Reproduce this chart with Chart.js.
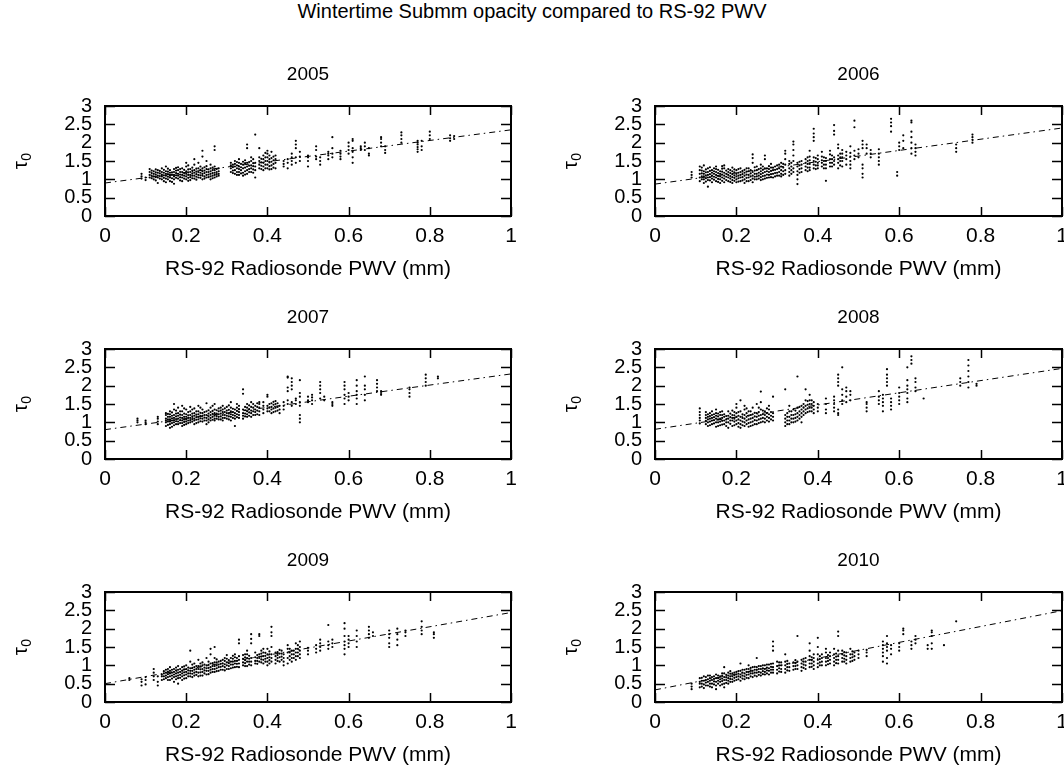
<!DOCTYPE html>
<html>
<head>
<meta charset="utf-8">
<script src="https://cdn.jsdelivr.net/npm/chart.js@4.4.1/dist/chart.umd.min.js"></script>
<style>
    body { margin: 0; background: #fff; }
    #page { position: relative; width: 1064px; height: 766px; overflow: hidden; font-family: "Liberation Sans", Arial, sans-serif; }
    #title { position: absolute; left: 0; top: -1px; width: 1064px; text-align: center; font-size: 20px; line-height: 24px; color: #000; }
    canvas { position: absolute; }
</style>
</head>
<body>
<div id="page">
    <div id="title">Wintertime Submm opacity compared to RS-92 PWV</div>
</div>
<script>
// each entry: [radiosonde PWV (mm), [tau readings taken for that launch]]
const obs2005 = [
    [0.09, [1.02, 1.08, 1.15]], [0.10, [0.98, 1.05]], [0.11, [1.05, 1.12, 1.2, 1.28]],
    [0.12, [1.0, 1.08, 1.15, 1.22]], [0.13, [0.9, 1.05, 1.1, 1.18, 1.25]], [0.14, [1.0, 1.08, 1.13, 1.2, 1.3]],
    [0.15, [0.92, 1.02, 1.1, 1.15, 1.22, 1.35]], [0.16, [0.95, 1.05, 1.1, 1.18, 1.25]], [0.17, [0.88, 1.0, 1.08, 1.12, 1.2, 1.28]],
    [0.18, [1.02, 1.1, 1.15, 1.25, 1.33]], [0.19, [0.95, 1.05, 1.12, 1.2, 1.3]], [0.20, [1.0, 1.08, 1.15, 1.22, 1.35, 1.45]],
    [0.21, [0.98, 1.06, 1.12, 1.2, 1.28]], [0.22, [1.02, 1.1, 1.18, 1.25, 1.4, 1.55]], [0.23, [1.05, 1.12, 1.2, 1.3, 1.45]],
    [0.24, [1.0, 1.1, 1.15, 1.22, 1.3, 1.62, 1.78]], [0.25, [1.05, 1.12, 1.2, 1.28, 1.36, 1.5]], [0.26, [1.0, 1.08, 1.15, 1.22, 1.3, 1.4]],
    [0.27, [1.05, 1.12, 1.18, 1.25, 1.35, 1.8, 1.9]], [0.28, [1.1, 1.15, 1.22, 1.3]], [0.31, [1.2, 1.3, 1.38, 1.45]],
    [0.32, [1.15, 1.25, 1.35, 1.42, 1.5]], [0.33, [1.12, 1.2, 1.28, 1.35, 1.45, 1.55]], [0.34, [1.1, 1.18, 1.3, 1.4, 1.48]],
    [0.35, [1.15, 1.25, 1.35, 1.45, 1.85, 1.95]], [0.36, [1.2, 1.3, 1.38, 1.5, 1.6]], [0.37, [1.05, 1.25, 1.35, 1.45, 2.22]],
    [0.38, [1.3, 1.4, 1.5, 1.6, 1.85]], [0.39, [1.25, 1.35, 1.45, 1.55, 1.65]], [0.40, [1.3, 1.4, 1.5, 1.6, 1.7, 1.78]],
    [0.41, [1.28, 1.38, 1.48, 1.58, 1.75]], [0.42, [1.3, 1.45, 1.55, 1.65]], [0.44, [1.35, 1.42, 1.5]],
    [0.45, [1.3, 1.45, 1.55]], [0.46, [1.4, 1.5, 1.6, 1.7]], [0.47, [1.45, 1.6, 1.85, 1.95, 2.05]],
    [0.48, [1.5, 1.62, 1.75]], [0.50, [1.35, 1.5, 1.6, 1.65]], [0.52, [1.55, 1.62, 1.8, 1.9]],
    [0.53, [1.4, 1.5, 1.6]], [0.55, [1.55, 1.65, 1.7, 1.75]], [0.56, [1.6, 1.7, 1.85, 2.15]],
    [0.58, [1.55, 1.62, 1.7, 1.78]], [0.60, [1.7, 1.8, 1.9, 2.0]], [0.61, [1.45, 1.6, 1.75, 1.85, 2.05, 2.1]],
    [0.63, [1.8, 1.85, 1.9]], [0.64, [1.8, 1.9, 2.0]], [0.65, [1.65, 1.7, 1.85]],
    [0.68, [1.9, 2.0, 2.1, 2.15]], [0.69, [1.72, 1.8, 1.9]], [0.73, [2.0, 2.1, 2.2, 2.28]],
    [0.77, [1.75, 1.82, 1.88, 1.95, 2.0, 2.05]], [0.78, [1.8, 1.9, 2.05]], [0.80, [2.1, 2.2, 2.3]],
    [0.85, [2.05, 2.12, 2.2]], [0.86, [2.1, 2.18]],
    [0.115, [1.03, 1.1, 1.17, 1.24]], [0.125, [0.97, 1.06, 1.13, 1.19, 1.27]], [0.135, [1.02, 1.09, 1.16, 1.23]],
    [0.145, [0.95, 1.04, 1.11, 1.18, 1.26]], [0.155, [1.0, 1.07, 1.14, 1.21, 1.29]], [0.165, [0.93, 1.03, 1.12, 1.19]],
    [0.175, [1.04, 1.11, 1.17, 1.24, 1.31]], [0.185, [0.97, 1.06, 1.13, 1.2, 1.28]], [0.195, [1.02, 1.1, 1.17, 1.26]],
    [0.205, [0.96, 1.04, 1.12, 1.19, 1.27, 1.38]], [0.215, [1.03, 1.1, 1.16, 1.24, 1.32]], [0.225, [0.99, 1.07, 1.14, 1.21, 1.29]],
    [0.235, [1.04, 1.11, 1.18, 1.26, 1.35]], [0.245, [1.02, 1.08, 1.17, 1.24, 1.33]], [0.255, [1.06, 1.13, 1.2, 1.27]],
    [0.265, [1.03, 1.1, 1.17, 1.25, 1.32]], [0.275, [1.08, 1.14, 1.2, 1.28]], [0.315, [1.17, 1.24, 1.33, 1.4]],
    [0.325, [1.12, 1.2, 1.3, 1.38, 1.47]], [0.335, [1.16, 1.25, 1.33, 1.42]], [0.345, [1.13, 1.22, 1.32, 1.44, 1.52]],
    [0.355, [1.2, 1.28, 1.37, 1.47]], [0.365, [1.18, 1.27, 1.36, 1.44, 1.55]], [0.385, [1.28, 1.37, 1.46, 1.56]],
    [0.395, [1.3, 1.4, 1.5, 1.6, 1.72]], [0.405, [1.27, 1.36, 1.46, 1.55, 1.65]], [0.415, [1.32, 1.42, 1.52, 1.62]],
]

const obs2006 = [
    [0.09, [1.05, 1.12, 1.2]], [0.11, [0.95, 1.05, 1.15, 1.25, 1.35]], [0.12, [0.9, 1.0, 1.08, 1.15, 1.22, 1.38]],
    [0.13, [0.8, 0.98, 1.05, 1.12, 1.2, 1.3]], [0.14, [0.92, 1.02, 1.1, 1.18, 1.25]], [0.15, [0.95, 1.05, 1.12, 1.2, 1.28, 1.35]],
    [0.16, [0.9, 1.0, 1.08, 1.15, 1.22]], [0.17, [0.92, 1.02, 1.1, 1.18, 1.3, 1.38]], [0.18, [0.95, 1.05, 1.12, 1.2, 1.28]],
    [0.19, [0.9, 0.98, 1.06, 1.14, 1.22, 1.32]], [0.20, [0.92, 1.0, 1.08, 1.15, 1.25]], [0.21, [0.95, 1.05, 1.12, 1.2, 1.3]],
    [0.22, [0.9, 1.0, 1.1, 1.18, 1.26]], [0.23, [0.95, 1.05, 1.12, 1.22, 1.3]], [0.24, [0.92, 1.02, 1.1, 1.2, 1.45, 1.58, 1.68]],
    [0.25, [1.0, 1.08, 1.15, 1.25, 1.35]], [0.26, [0.98, 1.06, 1.14, 1.22, 1.3, 1.4]], [0.27, [1.02, 1.1, 1.2, 1.3, 1.55, 1.65]],
    [0.28, [1.05, 1.12, 1.2, 1.28, 1.36]], [0.29, [1.05, 1.15, 1.25, 1.32]], [0.30, [1.1, 1.18, 1.28, 1.38]],
    [0.31, [1.08, 1.15, 1.25, 1.35, 1.45]], [0.32, [1.15, 1.25, 1.4, 1.55, 1.7, 1.78]], [0.33, [1.1, 1.2, 1.3, 1.42, 1.5]],
    [0.34, [1.2, 1.3, 1.5, 1.65, 1.8, 1.95, 2.03]], [0.35, [0.87, 1.0, 1.12, 1.22, 1.35, 1.45]], [0.36, [1.2, 1.3, 1.4, 1.5]],
    [0.37, [1.25, 1.35, 1.45, 1.55]], [0.38, [1.25, 1.32, 1.42, 1.52, 1.62, 1.78]], [0.39, [1.3, 1.4, 1.5, 1.6, 2.05, 2.15, 2.25, 2.38]],
    [0.40, [1.3, 1.38, 1.45, 1.55, 1.65]], [0.41, [1.35, 1.45, 1.52, 1.62, 1.75]], [0.42, [0.96, 1.3, 1.4, 1.5, 1.58]],
    [0.43, [1.35, 1.45, 1.55, 1.68, 1.78]], [0.44, [1.4, 1.5, 1.6, 2.22, 2.32, 2.48]], [0.45, [1.3, 1.45, 1.55, 1.65, 1.85, 1.95]],
    [0.46, [1.35, 1.5, 1.6, 1.7, 1.8]], [0.47, [1.4, 1.55, 1.65, 1.75]], [0.48, [1.3, 1.4, 1.5, 1.62, 1.72, 1.9]],
    [0.49, [1.55, 1.65, 1.78, 2.42, 2.6]], [0.50, [1.6, 1.7, 1.82]], [0.51, [1.05, 1.15, 1.3, 1.4, 1.85, 1.95, 2.05]],
    [0.52, [1.7, 1.85, 1.95]], [0.53, [1.6, 1.7, 1.8]], [0.55, [1.4, 1.5, 1.6, 1.7, 1.82]],
    [0.58, [2.3, 2.45, 2.55, 2.65]], [0.595, [1.1, 1.2]], [0.60, [1.8, 1.9, 2.0]],
    [0.61, [1.85, 2.05, 2.2]], [0.63, [1.7, 1.85, 2.0, 2.15, 2.3, 2.55, 2.6]], [0.64, [1.65, 1.75, 1.85, 1.95]],
    [0.74, [1.75, 1.85, 1.95]], [0.78, [2.0, 2.08, 2.15, 2.22]],
    [0.115, [1.0, 1.08, 1.16, 1.24, 1.32]], [0.125, [0.94, 1.03, 1.11, 1.19, 1.27]], [0.135, [0.97, 1.06, 1.14, 1.23, 1.33]],
    [0.145, [0.99, 1.07, 1.15, 1.22, 1.3]], [0.155, [0.93, 1.01, 1.09, 1.17, 1.26]], [0.165, [0.96, 1.05, 1.13, 1.21, 1.29, 1.36]],
    [0.175, [0.98, 1.07, 1.15, 1.24]], [0.185, [0.93, 1.02, 1.09, 1.17, 1.25]], [0.195, [0.96, 1.04, 1.11, 1.19, 1.27]],
    [0.205, [0.94, 1.03, 1.1, 1.18, 1.28]], [0.215, [0.97, 1.06, 1.14, 1.23]], [0.225, [0.95, 1.04, 1.13, 1.21, 1.3]],
    [0.235, [0.98, 1.08, 1.16, 1.25]], [0.245, [1.0, 1.07, 1.15, 1.24, 1.33]], [0.255, [1.02, 1.1, 1.18, 1.28]],
    [0.265, [1.0, 1.09, 1.17, 1.26, 1.35]], [0.275, [1.04, 1.13, 1.22, 1.3]], [0.285, [1.06, 1.14, 1.23, 1.32, 1.42]],
    [0.295, [1.08, 1.17, 1.26, 1.35]], [0.305, [1.1, 1.2, 1.3, 1.4]], [0.315, [1.12, 1.22, 1.32, 1.42]],
    [0.335, [1.15, 1.25, 1.35, 1.45]], [0.355, [1.18, 1.28, 1.38, 1.48]], [0.375, [1.22, 1.32, 1.42, 1.5, 1.6]],
    [0.395, [1.28, 1.38, 1.48, 1.58]], [0.415, [1.3, 1.4, 1.5, 1.6]], [0.435, [1.35, 1.45, 1.55, 1.65]],
    [0.455, [1.38, 1.5, 1.6, 1.7]],
]

const obs2007 = [
    [0.08, [1.0, 1.05, 1.1]], [0.10, [0.95, 1.0, 1.05]], [0.13, [0.95, 1.02, 1.1, 1.15]],
    [0.15, [0.9, 1.0, 1.05, 1.1, 1.2, 1.25]], [0.16, [0.85, 0.95, 1.02, 1.08, 1.15, 1.22, 1.3]], [0.17, [0.92, 1.0, 1.06, 1.12, 1.2, 1.35, 1.5]],
    [0.18, [0.95, 1.02, 1.1, 1.18, 1.25, 1.4]], [0.19, [0.9, 0.98, 1.05, 1.12, 1.2, 1.3, 1.45]], [0.20, [0.95, 1.02, 1.08, 1.15, 1.22, 1.35]],
    [0.21, [1.0, 1.06, 1.12, 1.2, 1.3, 1.42]], [0.22, [0.95, 1.05, 1.1, 1.18, 1.25, 1.38]], [0.23, [1.0, 1.08, 1.15, 1.22, 1.3, 1.45]],
    [0.24, [1.02, 1.1, 1.18, 1.25, 1.35]], [0.25, [0.95, 1.05, 1.12, 1.2, 1.3, 1.52]], [0.26, [1.05, 1.12, 1.2, 1.28, 1.4]],
    [0.27, [1.05, 1.1, 1.18, 1.25, 1.35, 1.5]], [0.28, [1.08, 1.15, 1.22, 1.3, 1.38]], [0.29, [1.05, 1.12, 1.2, 1.28, 1.35, 1.45]],
    [0.30, [1.1, 1.18, 1.25, 1.32, 1.42]], [0.31, [1.05, 1.15, 1.22, 1.3, 1.4, 1.55]], [0.32, [0.9, 1.1, 1.18, 1.25, 1.35]],
    [0.33, [1.12, 1.2, 1.28, 1.36, 1.45]], [0.34, [1.1, 1.18, 1.25, 1.35, 1.78, 1.9]], [0.35, [1.15, 1.22, 1.3, 1.4, 1.5]],
    [0.36, [1.15, 1.25, 1.32, 1.42, 1.55]], [0.37, [1.2, 1.28, 1.35, 1.45]], [0.38, [1.2, 1.3, 1.4, 1.5, 1.55]],
    [0.40, [1.3, 1.38, 1.45, 1.7, 1.75]], [0.41, [1.25, 1.35, 1.42, 1.52]], [0.42, [1.3, 1.4, 1.5, 1.58]],
    [0.43, [1.25, 1.35, 1.45]], [0.44, [1.35, 1.45, 1.55]], [0.45, [1.5, 1.6, 1.85, 1.95, 2.22, 2.25]],
    [0.46, [1.45, 1.55, 1.9, 2.0, 2.1, 2.2]], [0.47, [1.5, 1.6, 1.65]], [0.48, [1.0, 1.1, 1.2, 1.45, 1.55, 1.7, 1.8, 2.15]],
    [0.50, [1.55, 1.6, 1.7]], [0.51, [1.5, 1.6, 1.68, 1.75]], [0.53, [1.65, 1.8, 1.9, 2.0, 2.1]],
    [0.54, [1.6, 1.7]], [0.56, [1.45, 1.5, 1.55]], [0.59, [1.5, 1.65, 1.75, 1.9, 2.0, 2.1]],
    [0.60, [1.6, 1.7, 1.8]], [0.62, [1.5, 1.65, 1.75, 1.85, 2.0, 2.15]], [0.64, [1.6, 1.75, 1.9, 2.0, 2.25]],
    [0.67, [1.85, 1.95, 2.05, 2.15]], [0.68, [1.75, 1.8, 1.85]], [0.75, [1.7, 1.8, 1.9, 1.95]],
    [0.79, [2.0, 2.1, 2.2, 2.3]], [0.82, [2.2, 2.25]],
    [0.155, [0.93, 1.02, 1.08, 1.15, 1.23]], [0.165, [0.88, 0.98, 1.05, 1.11, 1.18, 1.27]], [0.175, [0.95, 1.03, 1.09, 1.16, 1.24, 1.32]],
    [0.185, [0.98, 1.06, 1.13, 1.21, 1.3]], [0.195, [0.93, 1.01, 1.08, 1.15, 1.24, 1.38]], [0.205, [0.98, 1.05, 1.12, 1.19, 1.28]],
    [0.215, [1.02, 1.09, 1.16, 1.24, 1.35]], [0.225, [0.98, 1.07, 1.14, 1.21, 1.3]], [0.235, [1.03, 1.11, 1.18, 1.26, 1.4]],
    [0.245, [1.05, 1.13, 1.2, 1.28]], [0.255, [1.0, 1.08, 1.16, 1.24, 1.33]], [0.265, [1.07, 1.15, 1.23, 1.31, 1.45]],
    [0.275, [1.1, 1.17, 1.24, 1.33]], [0.285, [1.08, 1.16, 1.24, 1.32, 1.4]], [0.295, [1.12, 1.2, 1.28, 1.38]],
    [0.305, [1.08, 1.16, 1.24, 1.34, 1.46]], [0.315, [1.12, 1.2, 1.28, 1.37]], [0.325, [1.14, 1.22, 1.31, 1.4, 1.5]],
    [0.345, [1.16, 1.24, 1.33, 1.42]], [0.355, [1.18, 1.27, 1.36, 1.46]], [0.365, [1.2, 1.3, 1.4, 1.5]],
    [0.375, [1.22, 1.32, 1.42, 1.52]], [0.39, [1.25, 1.35, 1.45, 1.55]], [0.405, [1.3, 1.4, 1.5]],
    [0.415, [1.28, 1.38, 1.48, 1.56]], [0.425, [1.32, 1.42, 1.52]],
]

const obs2008 = [
    [0.11, [0.97, 1.05, 1.12, 1.2, 1.28, 1.38]], [0.13, [0.9, 1.0, 1.08, 1.15, 1.22]], [0.14, [0.95, 1.05, 1.12, 1.2, 1.3]],
    [0.15, [0.88, 1.0, 1.1, 1.18, 1.25, 1.35]], [0.16, [0.92, 1.02, 1.1, 1.2, 1.28]], [0.17, [0.95, 1.05, 1.15, 1.22]],
    [0.18, [0.85, 1.0, 1.1, 1.18, 1.3]], [0.19, [0.9, 1.05, 1.12, 1.2, 1.32]], [0.20, [0.95, 1.05, 1.15, 1.25, 1.4, 1.5]],
    [0.21, [0.85, 0.95, 1.05, 1.15, 1.3, 1.6]], [0.22, [0.9, 1.0, 1.1, 1.2, 1.35, 1.45]], [0.23, [0.88, 0.98, 1.08, 1.18, 1.3]],
    [0.24, [0.92, 1.02, 1.12, 1.22, 1.4]], [0.25, [0.95, 1.05, 1.15, 1.25, 1.5]], [0.26, [1.0, 1.1, 1.2, 1.35, 1.55, 1.84]],
    [0.27, [1.0, 1.1, 1.2, 1.3]], [0.28, [1.02, 1.12, 1.22, 1.35, 1.45]], [0.29, [1.05, 1.15, 1.25, 1.7]],
    [0.32, [0.9, 1.0, 1.1, 1.2, 1.9]], [0.33, [0.95, 1.05, 1.15, 1.3, 1.45]], [0.34, [1.0, 1.1, 1.2, 1.35]],
    [0.35, [1.05, 1.15, 1.25, 1.4, 2.25]], [0.36, [1.0, 1.15, 1.25, 1.35, 1.45]], [0.37, [1.25, 1.35, 1.45, 1.6, 1.9]],
    [0.38, [1.3, 1.4, 1.5, 1.6, 1.75]], [0.39, [1.25, 1.35, 1.45, 1.55]], [0.40, [1.3, 1.4, 1.5]],
    [0.42, [1.25, 1.35, 1.5, 1.65]], [0.44, [1.3, 1.4, 1.5, 1.6, 1.7]], [0.45, [1.2, 1.25, 1.35, 2.0, 2.1, 2.2, 2.3]],
    [0.46, [1.5, 1.6, 1.75, 1.9, 2.5]], [0.47, [1.55, 1.7, 1.85, 1.95]], [0.48, [1.6, 1.75, 1.85]],
    [0.52, [1.3, 1.4, 1.5, 1.55]], [0.55, [1.5, 1.6, 1.7, 1.85]], [0.56, [1.3, 1.45, 1.55, 1.65, 1.75]],
    [0.57, [2.0, 2.1, 2.2, 2.3, 2.45]], [0.58, [1.35, 1.45, 1.55, 1.65]], [0.60, [1.5, 1.6, 1.7, 1.8, 1.95]],
    [0.62, [1.55, 1.65, 1.8, 1.9, 2.0, 2.15, 2.5]], [0.63, [2.6, 2.7, 2.8]], [0.64, [1.85, 1.95, 2.1, 2.2]],
    [0.66, [1.65]], [0.75, [2.0, 2.1, 2.2]], [0.77, [1.95, 2.1, 2.25, 2.4, 2.55, 2.7]],
    [0.79, [2.0, 2.05]],
    [0.125, [0.95, 1.04, 1.12, 1.2, 1.28]], [0.135, [0.92, 1.02, 1.1, 1.17, 1.25]], [0.145, [0.97, 1.06, 1.14, 1.22]],
    [0.155, [0.9, 1.0, 1.08, 1.16, 1.24]], [0.165, [0.94, 1.04, 1.12, 1.2, 1.3]], [0.175, [0.9, 1.0, 1.08, 1.17]],
    [0.185, [0.96, 1.05, 1.14, 1.24]], [0.195, [0.92, 1.02, 1.1, 1.19, 1.28]], [0.205, [0.88, 0.98, 1.08, 1.18, 1.28]],
    [0.215, [0.92, 1.02, 1.12, 1.22]], [0.225, [0.95, 1.05, 1.15, 1.25, 1.38]], [0.235, [0.9, 1.0, 1.1, 1.2, 1.3]],
    [0.245, [0.95, 1.06, 1.16, 1.26]], [0.255, [0.98, 1.08, 1.18, 1.28, 1.4]], [0.265, [1.02, 1.12, 1.22, 1.32]],
    [0.275, [1.05, 1.15, 1.25, 1.38]], [0.285, [1.08, 1.18, 1.28]], [0.325, [0.95, 1.05, 1.15, 1.25]],
    [0.335, [1.0, 1.1, 1.2, 1.3]], [0.345, [1.02, 1.12, 1.22, 1.32]], [0.355, [1.1, 1.2, 1.3, 1.42]],
    [0.365, [1.2, 1.3, 1.4, 1.5]], [0.375, [1.28, 1.38, 1.48, 1.58]], [0.385, [1.3, 1.4, 1.5, 1.6]],
]

const obs2009 = [
    [0.06, [0.6, 0.65]], [0.09, [0.45, 0.55, 0.62]], [0.10, [0.48, 0.6, 0.68]],
    [0.12, [0.6, 0.7, 0.8, 0.9]], [0.13, [0.45, 0.55, 0.7]], [0.14, [0.6, 0.7, 0.75]],
    [0.15, [0.65, 0.72, 0.8, 0.88]], [0.16, [0.6, 0.7, 0.78, 0.85, 0.95]], [0.17, [0.55, 0.68, 0.75, 0.82, 0.9]],
    [0.18, [0.5, 0.65, 0.72, 0.8, 0.88, 0.98]], [0.19, [0.6, 0.7, 0.78, 0.85, 0.95]], [0.20, [0.65, 0.75, 0.82, 0.9, 1.0]],
    [0.21, [0.7, 0.78, 0.85, 0.92, 1.1, 1.4]], [0.22, [0.72, 0.8, 0.88, 0.95, 1.05]], [0.23, [0.7, 0.8, 0.9, 0.98, 1.15]],
    [0.24, [0.72, 0.82, 0.9, 1.0, 1.08]], [0.25, [0.75, 0.85, 0.92, 1.0, 1.2]], [0.26, [0.8, 0.88, 0.95, 1.05, 1.3, 1.45]],
    [0.27, [0.82, 0.9, 0.98, 1.08, 1.2, 1.5]], [0.28, [0.85, 0.95, 1.02, 1.1]], [0.29, [0.88, 0.98, 1.05, 1.15]],
    [0.30, [0.9, 1.0, 1.08, 1.18, 1.28]], [0.31, [0.92, 1.02, 1.1, 1.2]], [0.32, [0.95, 1.05, 1.12, 1.22, 1.3]],
    [0.33, [0.95, 1.05, 1.15, 1.25, 1.6, 1.7]], [0.34, [1.0, 1.08, 1.18, 1.28]], [0.35, [0.98, 1.1, 1.2, 1.3, 1.4]],
    [0.36, [1.0, 1.1, 1.2, 1.6, 1.72, 1.85]], [0.37, [1.05, 1.12, 1.22, 1.35]], [0.38, [1.1, 1.2, 1.3, 1.8, 1.85]],
    [0.39, [1.05, 1.15, 1.25, 1.35, 1.45]], [0.40, [1.0, 1.1, 1.2, 1.3, 1.45]], [0.41, [1.1, 1.2, 1.3, 1.5, 1.8, 1.9, 2.05]],
    [0.42, [1.05, 1.15, 1.25, 1.35]], [0.43, [1.1, 1.22, 1.32, 1.42]], [0.44, [1.0, 1.1, 1.2, 1.3]],
    [0.45, [1.05, 1.2, 1.35, 1.45, 1.55]], [0.46, [1.1, 1.2, 1.3, 1.4]], [0.47, [1.15, 1.25, 1.35, 1.45, 1.6]],
    [0.48, [1.2, 1.3, 1.4, 1.5, 1.65]], [0.50, [1.3, 1.4, 1.48]], [0.52, [1.35, 1.45, 1.55]],
    [0.53, [1.4, 1.5, 1.6, 1.7]], [0.55, [1.45, 1.55, 1.65, 2.1]], [0.56, [1.5, 1.6, 1.7]],
    [0.59, [1.3, 1.45, 1.55, 1.65, 1.8, 2.0, 2.15]], [0.60, [1.5, 1.6, 1.7, 1.8]], [0.62, [1.5, 1.65, 1.8, 1.95]],
    [0.65, [1.75, 1.85, 1.95, 2.05]], [0.66, [1.8, 1.9]], [0.70, [1.5, 1.6, 1.75, 1.85, 1.95]],
    [0.72, [1.55, 1.7, 1.85, 2.0]], [0.74, [1.8, 1.9, 1.95]], [0.78, [1.85, 1.95, 2.05, 2.2]],
    [0.81, [1.75, 1.85, 1.9]],
    [0.145, [0.62, 0.7, 0.78, 0.84]], [0.155, [0.6, 0.68, 0.76, 0.83, 0.9]], [0.165, [0.64, 0.72, 0.8, 0.88]],
    [0.175, [0.62, 0.7, 0.78, 0.86, 0.94]], [0.185, [0.66, 0.74, 0.82, 0.9]], [0.195, [0.64, 0.73, 0.81, 0.89, 0.97]],
    [0.205, [0.7, 0.78, 0.86, 0.94]], [0.215, [0.68, 0.77, 0.85, 0.93, 1.02]], [0.225, [0.74, 0.82, 0.9, 0.98]],
    [0.235, [0.72, 0.81, 0.89, 0.97, 1.05]], [0.245, [0.78, 0.86, 0.94, 1.02]], [0.255, [0.76, 0.85, 0.93, 1.01, 1.1]],
    [0.265, [0.82, 0.9, 0.98, 1.06]], [0.275, [0.84, 0.92, 1.0, 1.08, 1.16]], [0.285, [0.88, 0.96, 1.04, 1.12]],
    [0.295, [0.86, 0.95, 1.03, 1.12, 1.2]], [0.305, [0.9, 0.98, 1.06, 1.14]], [0.315, [0.94, 1.02, 1.1, 1.18, 1.26]],
    [0.325, [0.96, 1.04, 1.12, 1.2]], [0.345, [0.98, 1.06, 1.14, 1.22, 1.3]], [0.355, [1.02, 1.1, 1.18, 1.26]],
    [0.375, [1.04, 1.12, 1.2, 1.28]], [0.385, [1.08, 1.16, 1.24, 1.32, 1.4]], [0.395, [1.1, 1.18, 1.26, 1.34]],
    [0.405, [1.05, 1.14, 1.22, 1.3, 1.38]], [0.425, [1.12, 1.2, 1.28, 1.36]], [0.435, [1.15, 1.24, 1.32, 1.4]],
    [0.455, [1.15, 1.25, 1.35, 1.45]], [0.465, [1.2, 1.3, 1.4]], [0.475, [1.25, 1.35, 1.45, 1.55]],
]

const obs2010 = [
    [0.09, [0.35, 0.42, 0.5]], [0.11, [0.4, 0.5, 0.55, 0.65]], [0.12, [0.38, 0.48, 0.58, 0.7]],
    [0.13, [0.45, 0.55, 0.62, 0.72]], [0.14, [0.4, 0.5, 0.6, 0.68]], [0.15, [0.35, 0.45, 0.55, 0.65, 0.75]],
    [0.16, [0.45, 0.55, 0.62, 0.7]], [0.17, [0.4, 0.5, 0.6, 0.68, 0.78, 0.95]], [0.18, [0.5, 0.58, 0.65, 0.72, 0.8]],
    [0.19, [0.55, 0.62, 0.7, 0.78]], [0.20, [0.6, 0.68, 0.75, 0.82]], [0.21, [0.58, 0.68, 0.75, 0.85, 1.05]],
    [0.22, [0.62, 0.7, 0.78, 0.88]], [0.23, [0.65, 0.75, 0.82, 0.9, 1.0]], [0.24, [0.68, 0.78, 0.85, 0.95]],
    [0.25, [0.7, 0.8, 0.88, 0.95, 1.2]], [0.26, [0.72, 0.8, 0.9, 0.98]], [0.27, [0.75, 0.82, 0.9, 1.0]],
    [0.28, [0.75, 0.85, 0.92, 1.02]], [0.29, [0.8, 0.88, 0.95, 1.05, 1.4, 1.52, 1.65]], [0.30, [0.78, 0.88, 0.98, 1.1]],
    [0.31, [0.82, 0.9, 1.0, 1.08]], [0.32, [0.8, 0.9, 1.0, 1.1, 1.3]], [0.33, [0.85, 0.95, 1.05]],
    [0.34, [0.88, 0.98, 1.08]], [0.35, [0.9, 1.0, 1.1, 1.8]], [0.36, [0.85, 0.95, 1.05, 1.15]],
    [0.37, [0.9, 1.0, 1.1, 1.2]], [0.38, [0.95, 1.05, 1.15, 1.25, 1.4, 1.6]], [0.39, [0.9, 1.0, 1.1, 1.2, 1.3]],
    [0.40, [0.95, 1.05, 1.15, 1.3, 1.5, 1.75]], [0.41, [1.0, 1.1, 1.2, 1.3]], [0.42, [1.0, 1.1, 1.2, 1.35, 1.45]],
    [0.43, [1.05, 1.15, 1.25, 1.35]], [0.44, [1.0, 1.1, 1.2, 1.3, 1.45]], [0.45, [1.05, 1.15, 1.25, 1.4, 1.8, 1.92]],
    [0.46, [1.1, 1.2, 1.3, 1.4]], [0.47, [1.05, 1.15, 1.25, 1.35]], [0.48, [1.1, 1.2, 1.3, 1.45]],
    [0.49, [1.15, 1.25, 1.35]], [0.50, [1.2, 1.3, 1.4]], [0.52, [1.25, 1.35, 1.42]],
    [0.56, [1.1, 1.25, 1.35, 1.45, 1.55, 1.65]], [0.57, [1.05, 1.2, 1.4, 1.5, 1.6, 1.8]], [0.58, [1.3, 1.45, 1.55]],
    [0.60, [1.4, 1.5, 1.6]], [0.61, [1.85, 1.95, 2.0]], [0.63, [1.45, 1.55, 1.65]],
    [0.64, [1.6, 1.7, 1.8]], [0.67, [1.45, 1.55]], [0.68, [1.45, 1.6, 1.8, 1.9, 1.95]],
    [0.71, [1.55]], [0.74, [2.2]],
    [0.115, [0.42, 0.5, 0.58, 0.66]], [0.125, [0.45, 0.53, 0.6, 0.68]], [0.135, [0.42, 0.5, 0.58, 0.65, 0.72]],
    [0.145, [0.48, 0.56, 0.63, 0.7]], [0.155, [0.5, 0.58, 0.65, 0.72]], [0.165, [0.48, 0.57, 0.64, 0.71, 0.78]],
    [0.175, [0.52, 0.6, 0.67, 0.74]], [0.185, [0.55, 0.63, 0.7, 0.77, 0.84]], [0.195, [0.58, 0.66, 0.73, 0.8]],
    [0.205, [0.62, 0.7, 0.77, 0.84]], [0.215, [0.64, 0.72, 0.8, 0.88]], [0.225, [0.66, 0.74, 0.82, 0.9]],
    [0.235, [0.7, 0.78, 0.86, 0.93]], [0.245, [0.72, 0.8, 0.88, 0.96]], [0.255, [0.74, 0.82, 0.9, 0.98]],
    [0.265, [0.76, 0.84, 0.92, 1.0]], [0.275, [0.78, 0.86, 0.94, 1.02]], [0.285, [0.8, 0.88, 0.96, 1.04]],
    [0.305, [0.83, 0.92, 1.0, 1.08]], [0.325, [0.86, 0.95, 1.04, 1.12]], [0.345, [0.9, 0.98, 1.06, 1.14]],
    [0.365, [0.93, 1.02, 1.1, 1.18]], [0.385, [0.96, 1.05, 1.14, 1.22]], [0.405, [1.0, 1.08, 1.17, 1.25]],
    [0.425, [1.03, 1.12, 1.2, 1.28]], [0.445, [1.06, 1.15, 1.24, 1.32]], [0.465, [1.1, 1.18, 1.27, 1.36]],
    [0.485, [1.12, 1.22, 1.3, 1.38]],
]

const years = ['2005', '2006', '2007', '2008', '2009', '2010']
const observations = [obs2005, obs2006, obs2007, obs2008, obs2009, obs2010]

// dash-dot linear fit, value at PWV = 0 and PWV = 1
const fitStart = [0.9, 0.87, 0.8, 0.81, 0.5, 0.33]
const fitEnd = [2.35, 2.4, 2.32, 2.47, 2.44, 2.49]

const pwvTicks = [0, 0.2, 0.4, 0.6, 0.8, 1]
const tauTicks = [0, 0.5, 1, 1.5, 2, 2.5, 3]

Chart.defaults.color = '#000'
Chart.defaults.font.family = '"Liberation Sans", Arial, sans-serif'

// gnuplot style box: border, inward tick marks on all four sides, tau label
const frame = {
    id: 'frame',
    afterDatasetsDraw(chart) {
        let {ctx, chartArea: a, scales: {x, y}} = chart
        ctx.save()
        ctx.strokeStyle = '#000'
        ctx.lineWidth = 1.5
        ctx.beginPath()
        tauTicks.forEach((v) => {
            let py = Math.round(y.getPixelForValue(v)) + 0.5
            ctx.moveTo(a.left, py)
            ctx.lineTo(a.left + 10, py)
            ctx.moveTo(a.right, py)
            ctx.lineTo(a.right - 10, py)
        })
        pwvTicks.forEach((v) => {
            let px = Math.round(x.getPixelForValue(v)) + 0.5
            ctx.moveTo(px, a.bottom)
            ctx.lineTo(px, a.bottom - 9)
            ctx.moveTo(px, a.top)
            ctx.lineTo(px, a.top + 9)
        })
        ctx.stroke()
        ctx.lineWidth = 2
        ctx.strokeRect(a.left, a.top, a.right - a.left, a.bottom - a.top)

        ctx.translate(a.left - 84, (a.top + a.bottom) / 2)
        ctx.rotate(-Math.PI / 2)
        ctx.fillStyle = '#000'
        ctx.textBaseline = 'middle'
        ctx.font = '21px "Liberation Sans", Arial, sans-serif'
        let w = ctx.measureText('τ').width
        ctx.fillText('τ', -w / 2 - 4, 0)
        ctx.font = '14px "Liberation Sans", Arial, sans-serif'
        ctx.fillText('0', w / 2 - 4, 6)
        ctx.restore()
    },
}

const page = document.getElementById('page')

observations.forEach((obs, i) => {
    let col = i % 2
    let row = Math.floor(i / 2)

    let canvas = document.createElement('canvas')
    canvas.width = 532
    canvas.height = 243
    canvas.style.left = (col * 532) + 'px'
    canvas.style.top = (56 + row * 243) + 'px'
    page.appendChild(canvas)

    let points = []
    obs.forEach(([pwv, taus]) => {
        taus.forEach((tau) => points.push({x: pwv, y: tau}))
    })

    new Chart(canvas, {
        type: 'scatter',
        data: {
            datasets: [
                {
                    data: points,
                    pointRadius: 1.1,
                    pointHoverRadius: 1.1,
                    backgroundColor: '#000',
                    borderWidth: 0,
                },
                {
                    data: [{x: 0, y: fitStart[i]}, {x: 1, y: fitEnd[i]}],
                    showLine: true,
                    borderColor: '#000',
                    borderWidth: 1,
                    borderDash: [6, 4, 1.5, 4],
                    pointRadius: 0,
                },
            ],
        },
        options: {
            responsive: false,
            animation: false,
            devicePixelRatio: 1,
            layout: {padding: {left: 0, right: col ? 2 : 21, top: 0, bottom: 0}},
            plugins: {
                legend: {display: false},
                tooltip: {enabled: false},
                title: {
                    display: true,
                    text: years[i],
                    fullSize: false,
                    font: {size: 19, weight: 'normal'},
                    padding: {top: 7.6, bottom: 19.6},
                },
            },
            scales: {
                x: {
                    type: 'linear',
                    min: 0,
                    max: 1,
                    grid: {display: false, drawTicks: false},
                    border: {display: false},
                    afterBuildTicks: (s) => { s.ticks = pwvTicks.map((v) => ({value: v})) },
                    afterFit: (s) => {
                        s.height = 83
                        s.paddingLeft = 0
                        s.paddingRight = 0
                    },
                    ticks: {
                        font: {size: 21},
                        padding: 8,
                        maxRotation: 0,
                        autoSkip: false,
                        callback: (v) => String(v),
                    },
                    title: {
                        display: true,
                        text: 'RS-92 Radiosonde PWV (mm)',
                        font: {size: 21},
                        padding: {top: 0, bottom: 17},
                    },
                },
                y: {
                    type: 'linear',
                    min: 0,
                    max: 3,
                    grid: {display: false, drawTicks: false},
                    border: {display: false},
                    afterBuildTicks: (s) => { s.ticks = tauTicks.map((v) => ({value: v})) },
                    afterFit: (s) => {
                        s.width = col ? 123 : 105
                        s.paddingTop = 0
                        s.paddingBottom = 0
                    },
                    ticks: {
                        font: {size: 20},
                        padding: 13,
                        autoSkip: false,
                        callback: (v) => String(v),
                    },
                },
            },
        },
        plugins: [frame],
    })
})
</script>
</body>
</html>
